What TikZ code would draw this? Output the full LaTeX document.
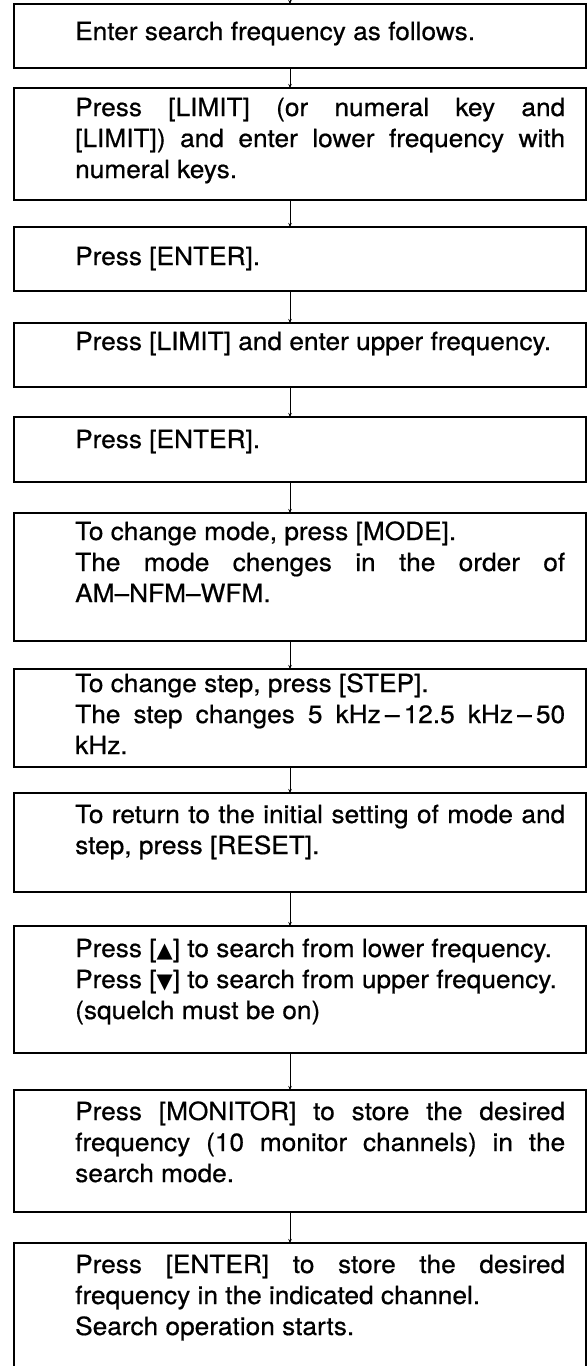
\documentclass[tikz,border=0pt]{standalone}
\usepackage{fontspec}
\setmainfont{TeX Gyre Heros}[FakeStretch=1.05,FakeBold=0.6]
\newfontfamily\symf{DejaVu Sans}
\usetikzlibrary{arrows.meta}
\newcommand\lj[1]{\hbox to \hsize{#1}}
\newcommand\lf[1]{\hbox to \hsize{#1\hfil}}
\newcommand\tb[1]{\vtop{\hsize=490pt\baselineskip=31pt\lineskiplimit=-100pt #1}}
\newcommand\tri[1]{{\symf\fontsize{21}{21}\selectfont #1}}
\begin{document}
\begin{tikzpicture}[x=1pt,y=-1pt,
  box/.style={draw=black,line width=1.5pt,minimum width=572pt,inner sep=0pt,outer sep=0pt},
  txt/.style={inner sep=0pt,anchor=base west,font=\fontsize{25}{31}\selectfont},
  conn/.style={draw=black,line width=0.8pt,-{Stealth[length=4pt,width=3.5pt]}}]
\useasboundingbox (0,0) rectangle (588,1366);
\fill[white] (0,0) rectangle (588,1366);
\node[box,minimum height=64pt]  (b1)  at (300,36) {};
\node[box,minimum height=112pt] (b2)  at (300,144) {};
\node[box,minimum height=64pt]  (b3)  at (300,259) {};
\node[box,minimum height=64pt]  (b4)  at (300,355) {};
\node[box,minimum height=65pt]  (b5)  at (300,449.5) {};
\node[box,minimum height=128pt] (b6)  at (300,577) {};
\node[box,minimum height=98pt]  (b7)  at (300,718) {};
\node[box,minimum height=99pt]  (b8)  at (300,842.5) {};
\node[box,minimum height=127pt] (b9)  at (300,989.5) {};
\node[box,minimum height=122pt] (b10) at (300,1151) {};
\node[box,minimum height=129pt] (b11) at (300,1307.5) {};
\node[txt] (t1) at (75,40) {\tb{\lf{Enter search frequency as follows.}}};
\node[txt] (t2) at (75,116) {\tb{\lj{Press [LIMIT] (or numeral key and}\lj{[LIMIT]) and enter lower frequency with}\lf{numeral keys.}}};
\node[txt] (t3) at (75,265) {\tb{\lf{Press [ENTER].}}};
\node[txt] (t4) at (75,350) {\tb{\lf{Press [LIMIT] and enter upper frequency.}}};
\node[txt] (t5) at (75,448) {\tb{\lf{Press [ENTER].}}};
\node[txt] (t6) at (75,540) {\tb{\lf{To change mode, press [MODE].}\lj{The mode chenges in the order of}\lf{AM–NFM–WFM.}}};
\node[txt] (t7) at (75,692) {\tb{\lf{To change step, press [STEP].}\lj{The step changes 5 kHz\,–\,12.5 kHz\,–\,50}\lf{kHz.}}};
\node[txt] (t8) at (75,823) {\tb{\lj{To return to the initial setting of mode and}\lf{step, press [RESET].}}};
\node[txt] (t9) at (75,957) {\tb{\lf{Press [\tri{▲}] to search from lower frequency.}\lf{Press [\tri{▼}] to search from upper frequency.}\lf{(squelch must be on)}}};
\node[txt] (t10) at (75,1120) {\tb{\lj{Press [MONITOR] to store the desired}\lj{frequency (10 monitor channels) in the}\lf{search mode.}}};
\node[txt] (t11) at (75,1273) {\tb{\lj{Press [ENTER] to store the desired}\lf{frequency in the indicated channel.}\lf{Search operation starts.}}};
\coordinate (ax) at (290,0);
\draw[conn] (ax) -- (b1.north -| ax);
\draw[conn] (b1.south -| ax) -- (b2.north -| ax);
\draw[conn] (b2.south -| ax) -- (b3.north -| ax);
\draw[conn] (b3.south -| ax) -- (b4.north -| ax);
\draw[conn] (b4.south -| ax) -- (b5.north -| ax);
\draw[conn] (b5.south -| ax) -- (b6.north -| ax);
\draw[conn] (b6.south -| ax) -- (b7.north -| ax);
\draw[conn] (b7.south -| ax) -- (b8.north -| ax);
\draw[conn] (b8.south -| ax) -- (b9.north -| ax);
\draw[conn] (b9.south -| ax) -- (b10.north -| ax);
\draw[conn] (b10.south -| ax) -- (b11.north -| ax);
\end{tikzpicture}
\end{document}
